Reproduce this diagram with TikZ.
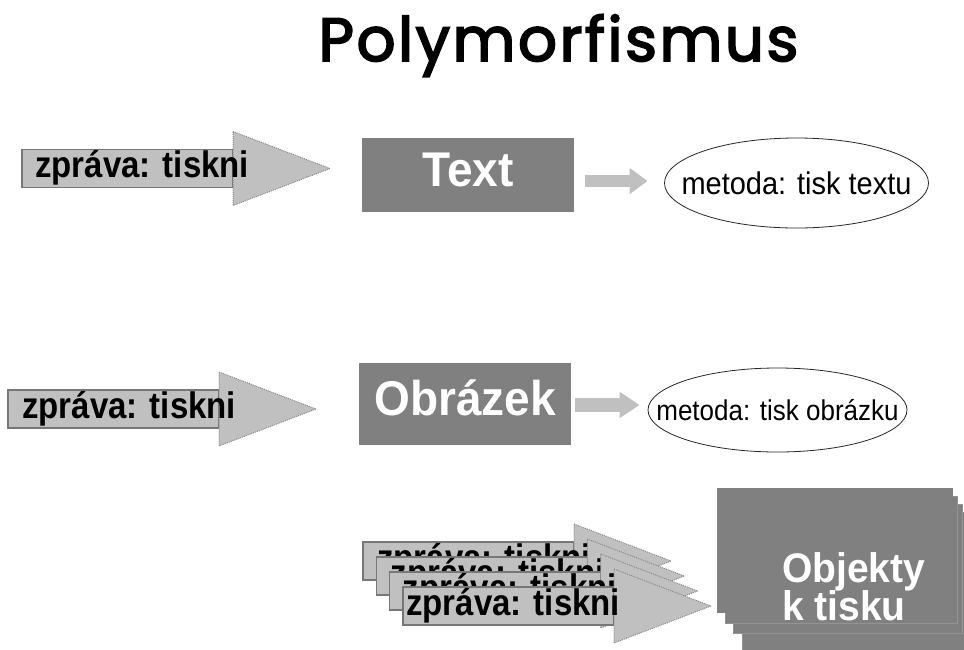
\documentclass[tikz,border=0pt]{standalone}
\usepackage{fontspec}
\setmainfont{Liberation Sans}
\newfontfamily\titlefont{Poppins}[FakeBold=3, LetterSpace=4.2]
\usetikzlibrary{shapes.geometric,arrows.meta,calc}

\definecolor{boxgray}{HTML}{808080}
\definecolor{arrowgray}{HTML}{C0C0C0}
\definecolor{edgegray}{HTML}{777777}
\definecolor{dotgray}{HTML}{8A8A8A}

\tikzset{
  shaft/.style={fill=arrowgray, draw=edgegray, line width=1.4pt},
  head/.style={fill=arrowgray, draw=dotgray, densely dotted, line width=1pt},
  msg/.style={font=\bfseries\fontsize{33}{36}\selectfont, inner sep=0pt, text=black},
  objbox/.style={fill=boxgray, draw=boxgray!85!white, line width=0.6pt},
  classbox/.style={fill=boxgray, text=white, inner sep=0pt,
    font=\bfseries\fontsize{46}{50}\selectfont, text height=30pt, text depth=8pt},
  method/.style={ellipse, draw=black!85, line width=0.8pt, fill=white,
    inner sep=0pt, text depth=0pt},
  link/.style={draw=arrowgray, line width=12pt, -{Triangle[length=18pt,width=25pt]}},
  objtext/.style={font=\bfseries\fontsize{39}{42}\selectfont, text=white,
    inner sep=0pt, anchor=base west}
}

% taller setting of a label, as in the slide's stretched lettering
\newcommand\tall[2][1.12]{\scalebox{1}[#1]{#2}}

% block arrow carrying the message: name, left end of shaft, axis, text indent
\newcommand\msgarrow[4]{%
  \path[shaft] (#2,#3-19) rectangle (#2+211,#3+19);
  \path[head] (#2+211,#3-37) -- (#2+308,#3) -- (#2+211,#3+37) -- cycle;
  \node[msg, anchor=base west] (#1) at (#2+#4,#3+9) {\tall{zpráva: tiskni}};}

\begin{document}
\begin{tikzpicture}[x=1pt,y=-1pt]
  \useasboundingbox (0,0) rectangle (964,649);

  \node[font=\titlefont\fontsize{61}{66}\selectfont, anchor=base,
        inner sep=0pt] (title) at (558.5,61) {Polymorfismus};

  % first row: message to a text object
  \msgarrow{msgA}{22}{168.5}{13}
  \node[classbox, minimum width=212pt, minimum height=74pt] (textbox) at (468,175) {\tall[1.06]{Text}};
  \node[method, minimum width=264pt, minimum height=90pt,
        font=\fontsize{29}{32}\selectfont] (ell1) at (796.5,183)
        {\makebox[0pt]{\tall[1.08]{metoda: tisk textu}}};
  \coordinate (l1s) at ([xshift=11pt,yshift=-6pt]textbox.east);
  \coordinate (l1e) at ([xshift=-16.5pt]ell1.west);
  \draw[link] (l1s) -- (l1s -| l1e);

  % second row: message to a picture object
  \msgarrow{msgB}{8}{409}{14}
  \node[classbox, minimum width=212pt, minimum height=82pt] (picbox) at (465,404) {\tall[1.06]{Obrázek}};
  \node[method, minimum width=259pt, minimum height=84pt,
        font=\fontsize{26}{29}\selectfont] (ell2) at (777.5,410)
        {\makebox[0pt]{\tall[1.1]{metoda: tisk obrázku}}};
  \coordinate (l2s) at ([xshift=4pt,yshift=-1pt]picbox.east);
  \coordinate (l2e) at ([xshift=-8pt]ell2.west);
  \draw[link, line width=14pt, -{Triangle[length=20pt,width=25pt]}] (l2s) -- (l2s -| l2e);

  % bottom: many messages sent to many printable objects
  \msgarrow{msgS1}{363}{561}{14}
  \msgarrow{msgS2}{376.3}{576}{14}
  \msgarrow{msgS3}{389.7}{591}{13}
  \msgarrow{msgS4}{403}{606}{3}

  \path[objbox] (742,512) rectangle (970,655);
  \path[objbox] (733,504) rectangle (962,633);
  \path[objbox] (725,496) rectangle (957,623);
  \node[objbox, draw=none, minimum width=236pt, minimum height=125pt, inner sep=0pt]
    (objs) at (835,550.5) {};
  \node[objtext] (objA) at (782,582) {\tall[1.06]{Objekty}};
  \node[objtext] (objB) at (782,620) {\tall[1.06]{k tisku}};
\end{tikzpicture}
\end{document}
